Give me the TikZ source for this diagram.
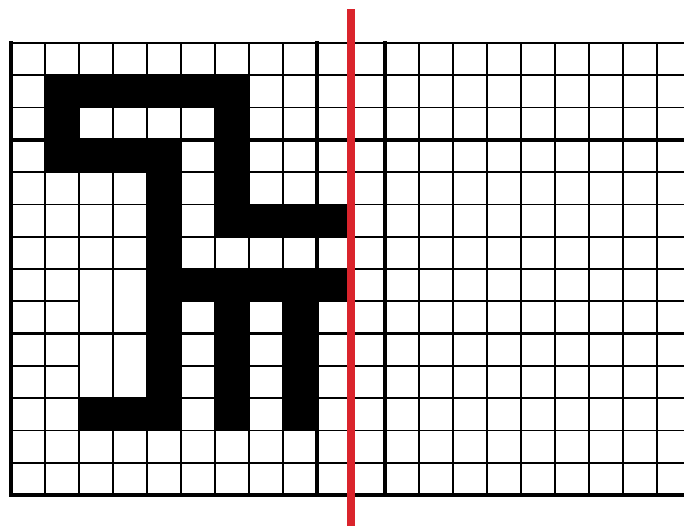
\documentclass[tikz,border=0pt]{standalone}
\definecolor{redline}{RGB}{218,36,44}
\begin{document}
\begin{tikzpicture}[x=1pt,y=-1pt,
  gridline/.style={line width=1.7pt,black},
  gridheavy/.style={line width=3.6pt,black,line cap=rect},
  cellfill/.style={fill=black},
  mirror/.style={draw=redline,line width=8pt}]
\useasboundingbox (0,0) rectangle (684,525);
\fill[white] (0,0) rectangle (684,525);
\begin{scope}
\clip (0,0) rectangle (684,525);
% black cells (column, row)
\foreach \c/\r in {1/1,2/1,3/1,4/1,5/1,6/1,
  1/2,6/2,
  1/3,2/3,3/3,4/3,6/3,
  4/4,6/4,
  4/5,6/5,7/5,8/5,9/5,
  4/6,
  4/7,5/7,6/7,7/7,8/7,9/7,
  4/8,6/8,8/8,
  4/9,6/9,8/9,
  4/10,6/10,8/10,
  2/11,3/11,4/11,6/11,8/11}
  \fill[cellfill] ({11+34*\c},{43+32.29*\r}) rectangle ({45+34*\c},{75.29+32.29*\r});
% vertical thin lines
\foreach \i in {1,2,3,4,5,6,7,8,10,12,13,14,15,16,17,18,19}
  \draw[gridline] ({11+34*\i},43) -- ({11+34*\i},495);
% horizontal thin lines
\foreach \j in {0,1,2,4,5,6,7,11,12,13}
  \draw[gridline] (11,{43+32.29*\j}) -- (690,{43+32.29*\j});
% rows with erased segments
\draw[gridline] (11,{43+32.29*8}) -- (80,{43+32.29*8});
\draw[gridline] (148,{43+32.29*8}) -- (690,{43+32.29*8});
\draw[gridline] (11,{43+32.29*10}) -- (80,{43+32.29*10});
\draw[gridline] (148,{43+32.29*10}) -- (690,{43+32.29*10});
% heavy lines
\foreach \i in {0,9,11}
  \draw[gridheavy] ({11+34*\i},43) -- ({11+34*\i},495);
\foreach \j in {3,9,14}
  \draw[gridheavy] (11,{43+32.29*\j}) -- (690,{43+32.29*\j});
% mirror line
\draw[mirror] (351,9) -- (351,530);
\end{scope}
\end{tikzpicture}
\end{document}
